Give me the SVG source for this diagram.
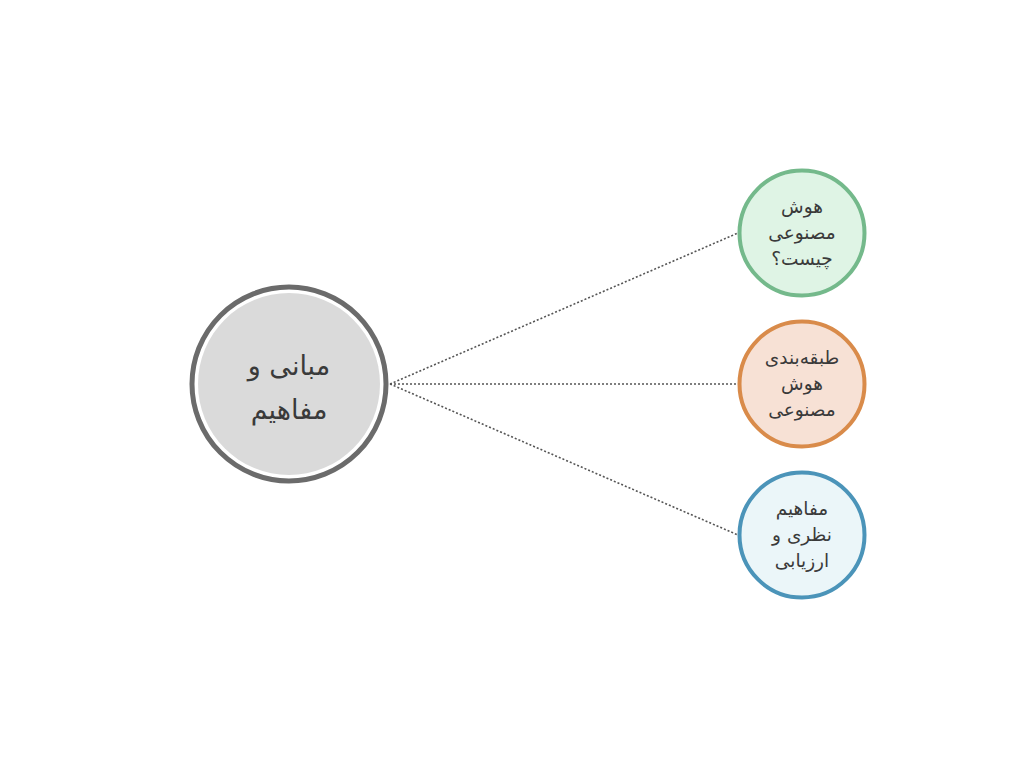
<svg xmlns="http://www.w3.org/2000/svg" width="1024" height="768" viewBox="0 0 1024 768">
<style>
text{font-family:"DejaVu Sans","Noto Sans",sans-serif;fill:#3a3a3a;text-anchor:middle;direction:rtl}
.big{font-size:27px}
.sm{font-size:18.5px}
.conn{stroke:#555;stroke-width:1.6;stroke-dasharray:2 2;fill:none}
</style>
<rect width="1024" height="768" fill="#ffffff"/>
<g id="connectors">
<line class="conn" x1="390" y1="384" x2="738" y2="233"/>
<line class="conn" x1="390" y1="384" x2="738" y2="384"/>
<line class="conn" x1="390" y1="384" x2="738" y2="535"/>
</g>
<g id="center">
<circle cx="289" cy="384" r="97" fill="#ffffff" stroke="#6b6b6b" stroke-width="5"/>
<circle cx="289" cy="384" r="91" fill="#dadada"/>
<text class="big" x="289" y="375">مبانی و</text>
<text class="big" x="289" y="419">مفاهیم</text>
</g>
<g id="n1">
<circle cx="802" cy="233" r="62.5" fill="#dff4e5" stroke="#74b98b" stroke-width="4"/>
<text class="sm" x="802" y="213">هوش</text>
<text class="sm" x="802" y="239">مصنوعی</text>
<text class="sm" x="802" y="265">چیست؟</text>
</g>
<g id="n2">
<circle cx="802" cy="384" r="62.5" fill="#f7e1d5" stroke="#d98b4a" stroke-width="4"/>
<text class="sm" x="802" y="364">طبقه‌بندی</text>
<text class="sm" x="802" y="390">هوش</text>
<text class="sm" x="802" y="416">مصنوعی</text>
</g>
<g id="n3">
<circle cx="802" cy="535" r="62.5" fill="#ebf6f9" stroke="#4b94b9" stroke-width="4"/>
<text class="sm" x="802" y="515">مفاهیم</text>
<text class="sm" x="802" y="541">نظری و</text>
<text class="sm" x="802" y="567">ارزیابی</text>
</g>
</svg>
